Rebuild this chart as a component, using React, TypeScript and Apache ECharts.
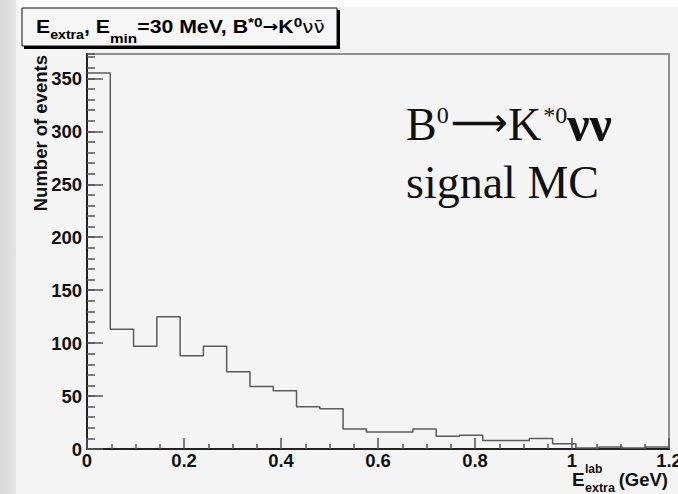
import { useEffect, useRef } from 'react';
import * as echarts from 'echarts';

// ---- data ----
const binCounts = [355, 113, 97, 125, 88, 97, 73, 59, 55, 40, 38, 19, 16, 16, 19, 12, 13, 8, 8, 10, 5, 1, 2, 1, 2];
const xRange = [0, 1.2];
const xTickStep = 0.2;
const xMinorSplit = 4;
const yMax = 373;
const yTickStep = 50;
const yMinorStep = 10;
const yAxisTitle = 'Number of events';
const annotationLine1 = '{a|B}{s|0}{ar|⟶}{a|K}{s2|*0}{n|νν}';
const annotationLine2 = 'signal MC';
const titleText = '{m|E}{sb|extra}{m|, E}{sb2|min}{m|=30 MeV, B}{sp|*0}{ar|→}{m|K}{sp|0}{nu|νν̄}';

const SANS = '"Liberation Sans", Arial, Helvetica, sans-serif';
const SERIF = '"Liberation Serif", "Times New Roman", serif';
const DEJAVU = '"DejaVu Sans", sans-serif';

export default function App() {
  const ref = useRef<HTMLDivElement>(null);

  useEffect(() => {
    if (!ref.current) return;
    const chart = echarts.init(ref.current, undefined, { renderer: 'svg' });

    const binWidth = (xRange[1] - xRange[0]) / binCounts.length;
    const histData: number[][] = binCounts.map((c, i) => [xRange[0] + i * binWidth, c]);
    histData.push([xRange[1], binCounts[binCounts.length - 1]]);

    const tickStyle = { color: '#555', width: 1.5 };
    const labelStyle = { color: '#111', fontFamily: SANS, fontWeight: 'bold' as const, fontSize: 18.5 };

    chart.setOption({
      animation: false,
      backgroundColor: '#f4f4f4',
      grid: {
        left: 87,
        right: 9,
        top: 54,
        bottom: 45,
        show: true,
        borderColor: '#8f8f8f',
        borderWidth: 2,
        backgroundColor: 'transparent',
        containLabel: false,
        outerBoundsMode: 'none',
      },
      xAxis: {
        type: 'value',
        min: xRange[0],
        max: xRange[1],
        interval: xTickStep,
        axisLine: { show: true, lineStyle: { color: '#222', width: 2 } },
        axisTick: { show: true, inside: true, length: 11, lineStyle: tickStyle },
        minorTick: { show: true, splitNumber: xMinorSplit, length: 5, lineStyle: tickStyle },
        splitLine: { show: false },
        axisLabel: { ...labelStyle, margin: 2 },
      },
      yAxis: [
        {
          type: 'value',
          position: 'left',
          min: 0,
          max: yMax,
          interval: yTickStep,
          axisLine: { show: true, lineStyle: { color: '#222', width: 2 } },
          axisTick: { show: true, inside: true, length: 16, lineStyle: tickStyle },
          splitLine: { show: false },
          axisLabel: { ...labelStyle, margin: 5, showMaxLabel: false },
        },
        {
          type: 'value',
          position: 'left',
          offset: 0,
          min: 0,
          max: yMax,
          interval: yMinorStep,
          axisLine: { show: false },
          axisTick: { show: true, inside: true, length: 8, lineStyle: tickStyle },
          splitLine: { show: false },
          axisLabel: { show: false },
        },
      ],
      series: [
        {
          type: 'line',
          step: 'end',
          data: histData,
          xAxisIndex: 0,
          yAxisIndex: 0,
          symbol: 'none',
          lineStyle: { color: '#5a5a5a', width: 1.5 },
          z: 3,
        },
      ],
      graphic: [
        // page background strips
        { type: 'rect', z: -10, shape: { x: 0, y: 0, width: 678, height: 7 }, style: { fill: '#fbfbfb' } },
        {
          type: 'rect',
          z: -10,
          shape: { x: 0, y: 0, width: 16, height: 494 },
          style: {
            fill: new echarts.graphic.LinearGradient(0, 0, 1, 0, [
              { offset: 0, color: '#d8d8d8' },
              { offset: 1, color: '#e4e4e4' },
            ]),
          },
        },
        // title box
        { type: 'rect', z: 10, shape: { x: 24, y: 10, width: 316, height: 39 }, style: { fill: '#000' } },
        {
          type: 'rect',
          z: 11,
          shape: { x: 22, y: 8, width: 315, height: 38 },
          style: { fill: '#f6f6f6', stroke: '#111', lineWidth: 1 },
        },
        {
          type: 'text',
          z: 12,
          x: 36,
          y: 27,
          scaleX: 1.18,
          style: {
            text: titleText,
            align: 'left',
            verticalAlign: 'middle',
            textAlign: 'left',
            textVerticalAlign: 'middle',
            fill: '#000',
            rich: {
              m: { fontSize: 18, fontWeight: 'bold', fontFamily: SANS, lineHeight: 30, fill: '#000' },
              sb: { fontSize: 12, fontWeight: 'bold', fontFamily: SANS, lineHeight: 30, padding: [16, 0, 0, 0], fill: '#000' },
              sb2: { fontSize: 13, fontWeight: 'bold', fontFamily: SANS, lineHeight: 30, padding: [22, 0, 0, 0], fill: '#000' },
              sp: { fontSize: 13, fontWeight: 'bold', fontFamily: SANS, lineHeight: 30, padding: [0, 0, 10, 0], fill: '#000' },
              ar: { fontSize: 16, fontWeight: 'bold', fontFamily: DEJAVU, lineHeight: 30, fill: '#000' },
              nu: { fontSize: 17, fontFamily: DEJAVU, lineHeight: 30, fill: '#000' },
            },
          },
        },
        // y axis title
        {
          type: 'text',
          z: 12,
          x: 40,
          y: 55,
          rotation: Math.PI / 2,
          style: {
            text: yAxisTitle,
            align: 'right',
            verticalAlign: 'middle',
            textAlign: 'right',
            textVerticalAlign: 'middle',
            fill: '#111',
            font: `bold 18.5px ${SANS}`,
          },
        },
        // x axis title
        {
          type: 'text', z: 12, x: 572, y: 479,
          style: { text: 'E', align: 'left', verticalAlign: 'middle', textAlign: 'left', textVerticalAlign: 'middle', fill: '#111', font: `bold 19px ${SANS}` },
        },
        {
          type: 'text', z: 12, x: 585, y: 469,
          style: { text: 'lab', align: 'left', verticalAlign: 'middle', textAlign: 'left', textVerticalAlign: 'middle', fill: '#111', font: `bold 12px ${SANS}` },
        },
        {
          type: 'text', z: 12, x: 585, y: 488,
          style: { text: 'extra', align: 'left', verticalAlign: 'middle', textAlign: 'left', textVerticalAlign: 'middle', fill: '#111', font: `bold 12.5px ${SANS}` },
        },
        {
          type: 'text', z: 12, x: 668, y: 479,
          style: { text: '(GeV)', align: 'right', verticalAlign: 'middle', textAlign: 'right', textVerticalAlign: 'middle', fill: '#111', font: `bold 18.5px ${SANS}` },
        },
        // annotation
        {
          type: 'text',
          z: 12,
          x: 406,
          y: 124,
          style: {
            text: annotationLine1,
            align: 'left',
            verticalAlign: 'middle',
            textAlign: 'left',
            textVerticalAlign: 'middle',
            fill: '#111',
            rich: {
              a: { fontSize: 46, fontFamily: SERIF, lineHeight: 60, fill: '#111' },
              s: { fontSize: 24, fontFamily: SERIF, lineHeight: 60, padding: [0, 2, 18, 0], fill: '#111' },
              ar: { fontSize: 40, fontFamily: DEJAVU, lineHeight: 60, padding: [0, 0, 4, 0], fill: '#111' },
              s2: { fontSize: 24, fontFamily: SERIF, lineHeight: 60, padding: [0, 0, 18, 2], fill: '#111' },
              n: { fontSize: 50, fontWeight: 'bold', fontFamily: SERIF, lineHeight: 60, fill: '#111' },
            },
          },
        },
        {
          type: 'text',
          z: 12,
          x: 406,
          y: 182.5,
          style: {
            text: annotationLine2,
            align: 'left',
            verticalAlign: 'middle',
            textAlign: 'left',
            textVerticalAlign: 'middle',
            fill: '#111',
            font: `46px ${SERIF}`,
          },
        },
      ],
    });

    return () => chart.dispose();
  }, []);

  return (
    <div
      ref={ref}
      style={{ position: 'fixed', left: 0, top: 0, width: 678, height: 494 }}
    />
  );
}
